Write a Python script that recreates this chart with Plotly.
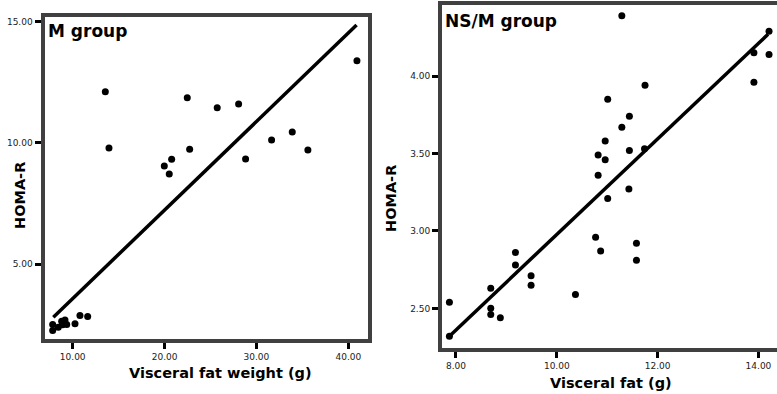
import plotly.graph_objects as go

# ---- Data: M group ----
m_x = [13.55, 13.95, 19.97, 20.77, 20.51, 22.47, 22.73, 25.73, 28.06, 28.82, 31.65, 33.90,
       35.60, 40.94, 7.82, 7.82, 8.43, 8.80, 9.16, 9.35, 10.25, 10.79, 11.63, 8.90]
m_y = [12.11, 9.79, 9.05, 9.33, 8.72, 11.86, 9.74, 11.45, 11.61, 9.34, 10.12, 10.45,
       9.71, 13.39, 2.26, 2.51, 2.40, 2.64, 2.70, 2.51, 2.54, 2.88, 2.84, 2.50]
m_fit_x = [7.89, 40.9]
m_fit_y = [2.81, 14.86]
m_xticks = [10, 20, 30, 40]
m_yticks = [5, 10, 15]

# ---- Data: NS/M group ----
ns_x = [11.29, 14.21, 13.91, 14.21, 13.91, 11.75, 11.01, 11.44, 11.29, 10.96, 10.82, 10.96,
        11.44, 11.74, 10.82, 11.43, 11.01, 10.77, 10.87, 11.58, 11.58, 10.37, 7.87, 7.87,
        8.69, 8.69, 8.69, 8.88, 9.18, 9.18, 9.49, 9.49]
ns_y = [4.39, 4.29, 4.15, 4.14, 3.96, 3.94, 3.85, 3.74, 3.67, 3.58, 3.49, 3.46,
        3.52, 3.53, 3.36, 3.27, 3.21, 2.96, 2.87, 2.92, 2.81, 2.59, 2.54, 2.32,
        2.63, 2.50, 2.46, 2.44, 2.86, 2.78, 2.71, 2.65]
ns_fit_x = [7.87, 14.19]
ns_fit_y = [2.32, 4.27]
ns_xticks = [8, 10, 12, 14]
ns_yticks = [2.5, 3.0, 3.5, 4.0]

W, H = 777, 394
FRAME = "#404040"
TICK_FONT = dict(family="DejaVu Sans", size=9, color="#222222")

fig = go.Figure()
fig.add_trace(go.Scatter(x=m_fit_x, y=m_fit_y, mode="lines", line=dict(color="black", width=3.5),
                         xaxis="x", yaxis="y", showlegend=False))
fig.add_trace(go.Scatter(x=m_x, y=m_y, mode="markers", marker=dict(color="black", size=7),
                         xaxis="x", yaxis="y", showlegend=False))
fig.add_trace(go.Scatter(x=ns_fit_x, y=ns_fit_y, mode="lines", line=dict(color="black", width=3.5),
                         xaxis="x2", yaxis="y2", showlegend=False))
fig.add_trace(go.Scatter(x=ns_x, y=ns_y, mode="markers", marker=dict(color="black", size=7),
                         xaxis="x2", yaxis="y2", showlegend=False))

axis_common = dict(showgrid=False, zeroline=False, showline=True, linecolor=FRAME, linewidth=4,
                   ticks="outside", ticklen=6, tickwidth=3, tickcolor="black",
                   tickfont=TICK_FONT, tickformat=".2f")

fig.update_layout(
    width=W, height=H,
    margin=dict(l=0, r=0, t=0, b=0),
    paper_bgcolor="white", plot_bgcolor="white",
    xaxis=dict(domain=[44.5 / W, 367.5 / W], range=[6.93, 42.09], tickvals=m_xticks,
               mirror=True, anchor="y", **axis_common),
    yaxis=dict(domain=[1 - 339 / H, 1 - 16.5 / H], range=[1.913, 15.215], tickvals=m_yticks,
               mirror=True, anchor="x", **axis_common),
    xaxis2=dict(domain=[442 / W, 1.0], range=[7.723, 14.368], tickvals=ns_xticks,
                mirror=True, anchor="y2", **axis_common),
    yaxis2=dict(domain=[1 - 348 / H, 1 - 5 / H], range=[2.244, 4.459], tickvals=ns_yticks,
                mirror=False, anchor="x2", **axis_common),
)

def ann(text, x, y, size, xanchor="center", yanchor="middle", angle=0):
    fig.add_annotation(text="<b>%s</b>" % text, x=x / W, y=1 - y / H, xref="paper", yref="paper",
                       showarrow=False, xanchor=xanchor, yanchor=yanchor, textangle=angle,
                       font=dict(family="DejaVu Sans", size=size, color="black"))

ann("M group", 46, 31, 17, xanchor="left")
ann("NS/M group", 443, 21, 17, xanchor="left")
ann("Visceral fat weight (g)", 220, 373, 14.5)
ann("Visceral fat (g)", 611, 383, 14.5)
ann("HOMA-R", 20, 196, 14.5, angle=-90)
ann("HOMA-R", 391, 199, 14.5, angle=-90)

fig.write_html("out.html", config={"displayModeBar": False},
               post_script="document.body.style.margin='0';document.body.style.overflow='hidden';")
